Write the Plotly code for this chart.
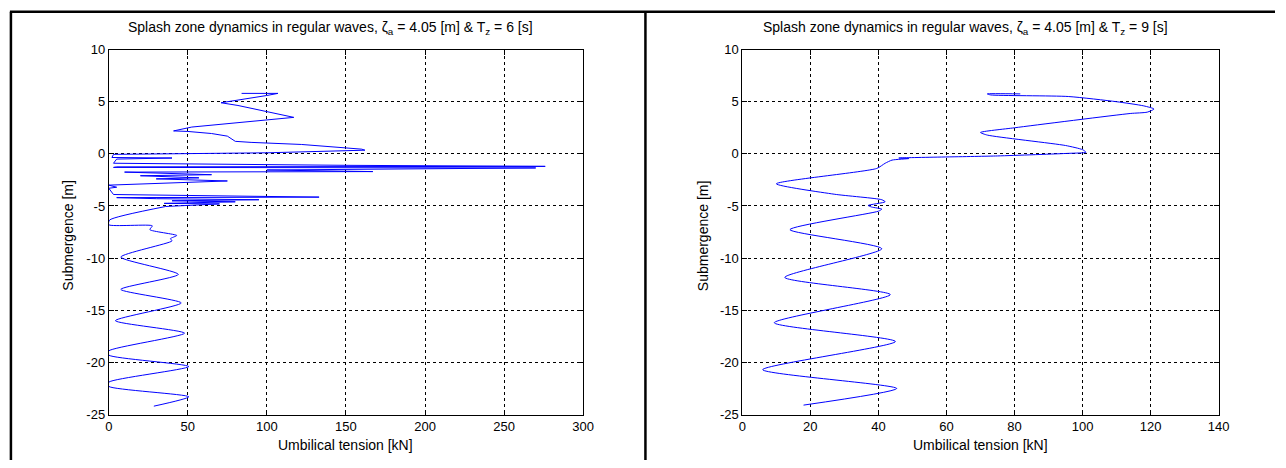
import plotly.graph_objects as go

# ---------------- data ----------------
# Left panel, Tz = 6 s : upper splash-zone part (dense spikes)
left_top_tension = [84, 107, 100, 92, 85, 71, 81.7, 117, 52.5, 41, 50, 65, 75, 80, 90, 122, 160, 162,
                    100, 3, 2, 40, 5, 3, 150, 276, 5, 3, 270, 100, 167, 10, 65, 20, 57, 30, 75, 24, 0, 5,
                    0, 3, 60, 133, 5, 30, 95, 40, 80, 35, 70, 36]
left_top_depth = [5.8, 5.8, 5.6, 5.4, 5.2, 4.9, 4.64, 3.5, 2.57, 2.2, 2.15, 1.95, 1.7, 1.2, 1.1, 0.9, 0.45, 0.35,
                  0.1, -0.05, -0.35, -0.4, -0.5, -0.9, -1.1, -1.2, -1.25, -1.3, -1.35, -1.55, -1.7, -1.75, -2.0, -2.1,
                  -2.3, -2.4, -2.6, -2.9, -3.0, -3.2, -3.3, -3.9, -4.0, -4.15, -4.2, -4.3, -4.4, -4.5, -4.6, -4.75,
                  -4.8, -5.05]
# Left panel : lower, fully submerged oscillation
left_low_tension = [36, 0.5, 0, 27.5, 26, 43, 39, 40, 7.6, 44, 7.6, 45.8, 4.2, 47.9, 0, 0, 50.6, 0, 0, 50.6, 28.5]
left_low_depth = [-5.05, -6.35, -6.8, -6.9, -7.27, -7.83, -8.13, -8.35, -9.9, -11.56, -13.0, -14.3, -16.0, -17.2,
                  -18.9, -19.3, -20.4, -21.9, -22.3, -23.3, -24.2]

# Right panel, Tz = 9 s
right_tension = [81.7, 72, 73, 95.8, 110, 118, 121, 119, 114, 80, 70, 72, 95, 100, 101, 96, 75, 46, 49, 44, 42,
                 39.5, 10, 27, 41, 42, 37, 38, 41, 40, 14, 41, 12.5, 43.5, 9.4, 45, 6, 45.4, 18]
right_depth = [5.75, 5.75, 5.65, 5.5, 5.0, 4.6, 4.3, 4.0, 3.87, 2.5, 2.05, 1.8, 0.8, 0.4, 0.15, 0.05, -0.2, -0.4,
               -0.45, -0.6, -0.9, -1.4, -2.87, -3.87, -4.4, -4.6, -4.95, -5.1, -5.3, -5.5, -7.27, -9.1, -11.85,
               -13.5, -16.2, -18.0, -20.7, -22.5, -24.1]

y_ticks = [-25, -20, -15, -10, -5, 0, 5, 10]
y_tick_labels = ["-25", "-20", "-15", "-10", "-5", "0", "5", "10"]
left_x_ticks = [0, 50, 100, 150, 200, 250, 300]
right_x_ticks = [0, 20, 40, 60, 80, 100, 120, 140]

titles = ["Splash zone dynamics in regular waves, ζ<sub>a</sub> = 4.05 [m] & T<sub>z</sub> = 6 [s]",
          "Splash zone dynamics in regular waves, ζ<sub>a</sub> = 4.05 [m] & T<sub>z</sub> = 9 [s]"]
x_label = "Umbilical tension [kN]"
y_label = "Submergence [m]"

# ---------------- figure ----------------
W, H = 1286, 468
BLUE = "#0000ff"
FONT = "Liberation Sans, Arial, sans-serif"

fig = go.Figure()
fig.add_trace(go.Scatter(x=left_top_tension, y=left_top_depth, mode="lines",
                         line=dict(color=BLUE, width=1), xaxis="x", yaxis="y", showlegend=False))
fig.add_trace(go.Scatter(x=left_low_tension, y=left_low_depth, mode="lines",
                         line=dict(color=BLUE, width=1, shape="spline", smoothing=0.6),
                         xaxis="x", yaxis="y", showlegend=False))
fig.add_trace(go.Scatter(x=right_tension, y=right_depth, mode="lines",
                         line=dict(color=BLUE, width=1, shape="spline", smoothing=0.6),
                         xaxis="x2", yaxis="y2", showlegend=False))


def px_x(p):
    return p / W


def px_y(p):
    return 1 - p / H


common_ax = dict(showline=True, linecolor="black", linewidth=1, mirror="ticks", ticks="inside",
                 ticklen=5, tickcolor="black", showgrid=True, gridcolor="black", griddash="3px,3px",
                 gridwidth=1, zeroline=False, tickfont=dict(family=FONT, size=13, color="black"))

ydom = [px_y(421), px_y(44)]
fig.update_layout(
    width=W, height=H, margin=dict(l=0, r=0, t=0, b=0), autosize=False,
    paper_bgcolor="white", plot_bgcolor="white",
    font=dict(family=FONT, size=13, color="black"),
    xaxis=dict(domain=[px_x(106), px_x(586)], range=[0, 300], tickvals=left_x_ticks, anchor="y", **common_ax),
    yaxis=dict(domain=ydom, range=[-25, 10], tickvals=y_ticks, ticktext=y_tick_labels, anchor="x", **common_ax),
    xaxis2=dict(domain=[px_x(747), px_x(1229)], range=[0, 140], tickvals=right_x_ticks, anchor="y2", **common_ax),
    yaxis2=dict(domain=ydom, range=[-25, 10], tickvals=y_ticks, ticktext=y_tick_labels, anchor="x2", **common_ax),
)

ann = []
for tx, lx, t in [(330, 346, titles[0]), (973, 988, titles[1])]:
    ann.append(dict(x=px_x(tx), y=px_y(22), xref="paper", yref="paper", text=t, showarrow=False,
                    xanchor="center", yanchor="middle", font=dict(family=FONT, size=14, color="black")))
    ann.append(dict(x=px_x(lx), y=px_y(452), xref="paper", yref="paper", text=x_label, showarrow=False,
                    xanchor="center", yanchor="middle", font=dict(family=FONT, size=14, color="black")))
for yx in [65, 708]:
    ann.append(dict(x=px_x(yx), y=px_y(236), xref="paper", yref="paper", text=y_label,
                    showarrow=False, textangle=-90, xanchor="center", yanchor="middle",
                    font=dict(family=FONT, size=14, color="black")))
fig.update_layout(annotations=ann)

# outer frame lines of the picture
fig.add_shape(type="line", xref="paper", yref="paper", x0=px_x(7), x1=px_x(7), y0=0, y1=px_y(5),
              line=dict(color="black", width=2.5))
fig.add_shape(type="line", xref="paper", yref="paper", x0=px_x(6), x1=1, y0=px_y(5), y1=px_y(5),
              line=dict(color="black", width=2.5))
fig.add_shape(type="line", xref="paper", yref="paper", x0=px_x(649), x1=px_x(649), y0=0, y1=px_y(5),
              line=dict(color="black", width=2.5))

fig.write_html("out.html")
